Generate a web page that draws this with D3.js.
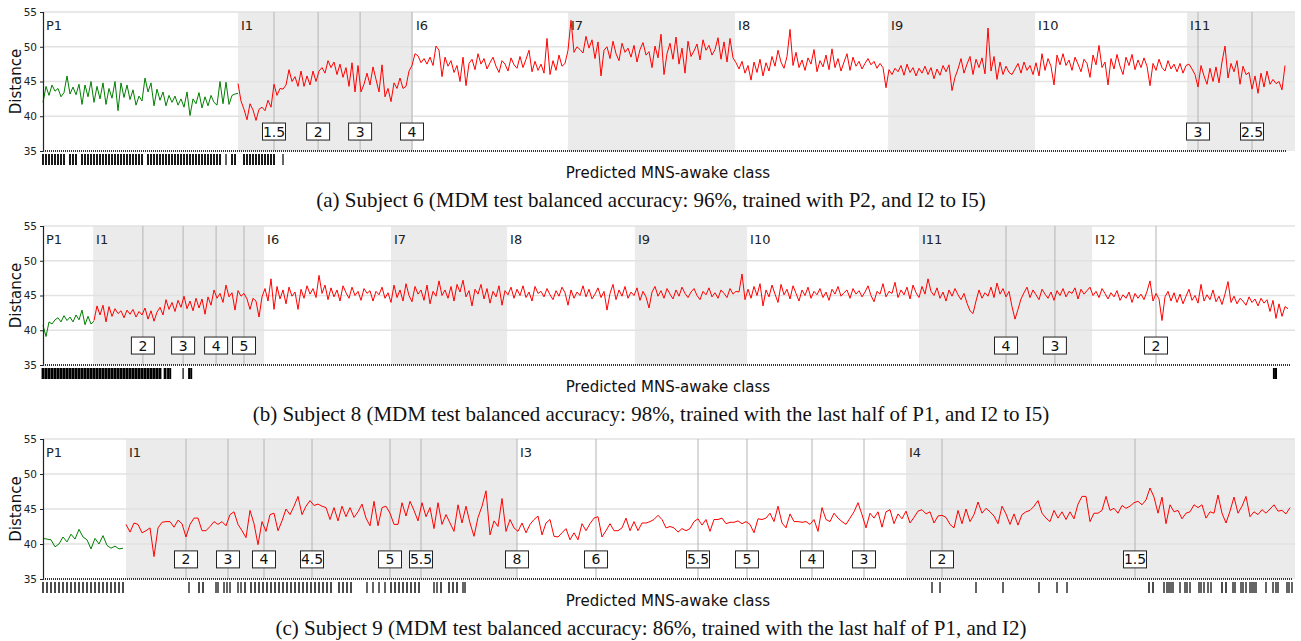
<!DOCTYPE html>
<html>
<head>
<meta charset="utf-8">
<script src="https://cdn.jsdelivr.net/npm/d3@7"></script>
<style>
  body { margin: 0; background: #fff; }
  svg { display: block; }
</style>
</head>
<body>
<div id="chart"></div>
<script>
// ---------------- Subject 6 (panel a) ----------------
// x unit = epoch index
const regionsA = ["P1", "I1", "I6", "I7", "I8", "I9", "I10", "I11"];
const regionStartsA = [0, 65, 123.3, 175, 230.7, 281.7, 330.7, 381.3];
const markerPosA = [77, 91.7, 105.7, 123, 385, 403];
const markerLabelsA = ["1.5", "2", "3", "4", "3", "2.5"];
const greenA = [42.0, 44.3, 43.0, 44.5, 43.6, 44.0, 42.8, 43.4, 45.8, 43.2,
  44.2, 43.1, 44.6, 41.7, 44.5, 42.8, 45.0, 42.0, 44.3, 42.5,
  44.8, 41.7, 44.0, 42.6, 45.0, 40.8, 44.8, 42.7, 44.5, 42.4,
  43.8, 41.6, 42.9, 42.2, 45.5, 43.5, 44.8, 41.5, 43.9, 42.3,
  43.5, 41.5, 43.0, 42.0, 42.9, 41.6, 42.5, 41.3, 43.5, 40.1,
  42.5, 41.8, 43.4, 41.2, 42.8, 41.5, 43.0, 42.0, 41.6, 45.0,
  41.8, 44.9, 41.7, 43.0, 43.2, 43.3];
const redA = [44.7, 42.2, 41.0, 39.5, 41.8, 40.9, 39.4, 41.0, 41.3, 40.8,
  42.3, 41.3, 44.6, 43.0, 44.0, 43.9, 44.5, 46.7, 45.0, 45.7,
  44.3, 46.5, 44.3, 45.8, 44.5, 46.5, 45.0, 46.5, 47.0, 46.2,
  48.0, 47.0, 47.8, 46.0, 47.5, 45.6, 47.0, 44.3, 47.7, 43.5,
  47.3, 43.5, 44.6, 46.2, 44.5, 47.1, 45.3, 43.5, 47.4, 42.8,
  44.0, 42.1, 44.8, 44.0, 45.5, 44.0, 44.3, 46.5, 47.3, 49.0,
  48.7, 47.7, 48.3, 47.5, 48.5, 47.3, 50.1, 49.5, 45.7, 48.5,
  47.2, 48.0, 46.3, 47.3, 45.0, 48.5, 44.4, 47.6, 48.2, 46.7,
  49.0, 47.5, 48.3, 46.8, 47.7, 48.5, 47.2, 46.3, 48.0, 47.5,
  46.5, 48.4, 47.4, 46.9, 48.6, 47.0, 48.2, 49.5, 46.4, 47.9,
  46.6, 47.5, 46.2, 51.2, 46.0, 48.0, 46.6, 48.8, 47.2, 47.6,
  49.5, 53.8, 49.2, 50.0, 49.6, 49.1, 51.5, 49.8, 51.0, 48.3,
  50.7, 45.8, 49.5, 50.0, 48.3, 50.8, 49.0, 48.0, 50.5, 49.2,
  49.8, 48.5, 50.2, 47.8, 49.6, 50.6, 48.8, 49.3, 47.0, 50.1,
  48.4, 51.8, 46.0, 49.0, 50.5, 48.2, 51.4, 47.5, 49.8, 46.2,
  50.8, 48.6, 49.4, 50.4, 48.1, 51.0, 49.5, 50.2, 48.8, 49.6,
  51.3, 48.2, 50.7, 47.8, 51.2, 48.4, 47.7, 46.8, 47.9, 46.2,
  47.3, 45.2, 47.8, 46.3, 48.2, 45.8, 47.7, 46.5, 48.6, 47.2,
  49.5, 47.8, 46.9, 48.6, 52.5, 47.3, 49.2, 47.0, 48.1, 46.6,
  48.4, 47.5, 49.6, 46.4, 48.0, 47.1, 48.8, 46.7, 49.7, 47.0,
  48.3, 46.5, 47.8, 49.0, 46.6, 48.5, 47.2, 47.9, 46.8, 47.6,
  48.3, 47.4, 47.9, 46.9, 47.6, 47.0, 44.1, 46.7, 46.0, 46.9,
  46.4, 47.3, 45.9, 47.5, 46.3, 47.0, 45.8, 46.9, 46.2, 47.2,
  46.0, 47.0, 45.4, 46.8, 45.9, 47.3, 46.4, 47.4, 43.7, 45.6,
  46.8, 48.3, 46.2, 47.5, 48.6, 46.0, 48.2, 47.0, 48.4, 46.1,
  52.7, 46.5, 48.6, 45.3, 47.8, 46.0, 47.2, 46.3, 46.0, 46.8,
  47.6, 46.2, 47.8, 46.6, 47.3, 46.0, 47.7, 45.8, 49.0, 46.6,
  48.3, 47.2, 44.5, 48.8, 47.4, 49.0, 47.3, 48.1, 46.6, 48.5,
  47.5, 46.4, 48.2, 47.6, 45.6, 48.8, 47.4, 50.2, 47.0, 47.8,
  44.5, 48.3, 46.8, 48.9, 47.2, 46.0, 48.5, 47.3, 48.9, 46.7,
  48.1, 47.0, 48.4, 47.2, 44.4, 47.6, 46.6, 48.2, 47.0, 46.5,
  48.0, 46.8, 47.5, 46.4, 47.6, 46.2, 47.3, 47.5, 46.8, 46.0,
  44.2, 47.3, 45.8, 44.6, 46.9, 45.0, 47.1, 44.8, 47.8, 50.1,
  45.5, 47.6, 46.4, 48.0, 44.6, 47.2, 46.0, 46.3, 43.9, 45.8,
  43.3, 46.2, 44.2, 46.5, 44.6, 45.3, 44.7, 45.0, 43.8, 47.3];
const ticksA = [0, 1, 2, 3, 4, 5, 6, 7, 9, 10, 11, 13, 14, 15, 16, 17, 18, 19, 20,
  21, 22, 23, 24, 25, 26, 27, 28, 29, 30, 31, 32, 33, 35, 36, 37, 38, 39, 40,
  41, 42, 43, 44, 45, 46, 47, 48, 49, 50, 51, 52, 53, 54, 55, 56, 57, 58, 59,
  61, 63, 64, 67, 68, 69, 70, 71, 72, 73, 74, 75, 76, 77, 80];

// ---------------- Subject 8 (panel b) ----------------
const regionsB = ["P1", "I1", "I6", "I7", "I8", "I9", "I10", "I11", "I12"];
const regionStartsB = [0, 16.7, 73.7, 116, 154.7, 197.3, 234.7, 292, 349.7];
const markerPosB = [33.3, 46.7, 57.7, 67, 321, 337.3, 371];
const markerLabelsB = ["2", "3", "4", "5", "4", "3", "2"];
const greenB = [40.7, 39.1, 41.2, 40.9, 41.5, 41.8, 41.2, 42.1, 41.4, 41.9,
  41.2, 42.2, 41.5, 42.9, 40.8, 42.0, 40.9, 41.3];
const redB = [41.4, 43.5, 42.2, 43.6, 41.2, 43.4, 42.0, 43.1, 42.4, 42.8,
  41.8, 42.9, 42.3, 43.0, 41.9, 42.7, 42.2, 43.2, 41.6, 42.8,
  41.3, 42.6, 43.3, 42.2, 44.4, 43.0, 44.0, 42.7, 44.3, 43.3,
  44.9, 43.1, 44.2, 42.8, 44.6, 43.2, 44.5, 42.3, 44.8, 43.6,
  45.8, 44.6, 45.3, 44.0, 46.5, 44.8, 45.4, 42.9, 45.7, 44.9,
  45.3, 44.5, 43.0, 44.6, 44.2, 41.9, 44.8, 46.0, 44.2, 47.4,
  43.0, 46.3, 44.5, 45.8, 43.8, 46.2, 44.9, 45.5, 43.0, 45.9,
  44.6, 46.4, 45.2, 46.0, 44.7, 47.9, 45.3, 46.5, 44.4, 46.1,
  44.8, 45.8, 44.2, 46.4, 45.4, 44.6, 46.2, 45.0, 45.6, 44.3,
  46.0, 45.3, 45.7, 44.2, 45.6, 45.1, 46.2, 44.6, 45.4, 44.0,
  46.5, 44.7, 45.8, 44.2, 46.7, 45.0, 44.1, 46.3, 45.2, 45.8,
  44.3, 46.5, 43.8, 45.6, 44.9, 47.1, 45.0, 45.8, 44.6, 46.3,
  44.2, 46.6, 45.5, 47.2, 44.8, 45.7, 43.5, 45.9, 45.2, 46.6,
  44.5, 46.0, 43.9, 45.6, 44.8, 46.4, 43.6, 45.7, 45.1, 46.2,
  44.6, 45.9, 45.0, 46.4, 44.7, 45.5, 44.2, 46.3, 45.3, 45.6,
  44.8, 46.0, 45.1, 44.4, 45.7, 44.9, 46.2, 45.4, 43.6, 45.8,
  44.6, 45.5, 45.0, 46.4, 44.8, 45.9, 44.5, 45.2, 46.1, 44.7,
  45.6, 42.9, 45.3, 46.6, 44.4, 45.8, 44.9, 46.3, 44.6, 45.5,
  45.0, 46.1, 44.3, 45.6, 44.8, 43.2, 45.5, 46.3, 44.9, 45.7,
  44.6, 46.0, 45.2, 44.5, 45.8, 44.9, 46.2, 45.3, 44.7, 45.5,
  46.0, 45.0, 44.4, 45.6, 45.1, 46.1, 44.8, 45.4, 44.6, 45.8,
  45.3, 44.7, 46.0, 45.2, 45.6, 45.5, 48.1, 44.4, 45.9, 44.6,
  46.3, 45.0, 46.7, 43.5, 45.8, 44.8, 46.5, 45.2, 44.0, 46.6,
  45.1, 45.9, 44.5, 46.4, 45.3, 44.2, 45.8, 45.0, 46.2, 44.6,
  45.6, 45.1, 46.0, 44.7, 45.5, 44.3, 45.9, 45.2, 46.3, 44.9,
  45.4, 45.8, 44.6, 46.0, 45.2, 45.7, 44.8, 45.5, 46.4, 45.0,
  44.1, 45.6, 45.2, 46.7, 44.8, 45.6, 45.3, 46.9, 44.7, 45.8,
  45.1, 46.2, 44.5, 46.5, 45.4, 44.7, 46.3, 45.2, 47.4, 45.6,
  45.0, 46.1, 44.6, 45.5, 44.2, 45.8, 44.9, 46.0, 45.1, 44.4,
  45.3, 43.9, 42.8, 42.4, 44.2, 45.8, 44.6, 45.4, 44.9, 46.2,
  44.7, 46.8, 45.2, 46.0, 44.8, 45.6, 43.4, 41.6, 43.0, 44.5,
  45.4, 46.2, 44.7, 45.8, 45.1, 44.4, 45.9, 45.2, 44.6, 45.5,
  44.3, 45.7, 45.0, 46.0, 44.8, 45.6, 45.3, 46.1, 44.5, 45.9,
  45.2, 45.7, 46.2, 45.0, 45.6, 44.7, 46.0, 45.3, 44.5, 45.4,
  44.8, 45.7, 44.3, 45.1, 44.6, 45.5, 44.0, 45.3, 44.6, 45.2,
  44.4, 45.6, 47.1, 44.2, 45.3, 44.5, 41.4, 44.8, 45.6, 44.2,
  45.4, 44.0, 45.2, 43.8, 44.9, 45.9, 44.3, 45.0, 43.9, 46.6,
  44.2, 45.1, 44.4, 45.8, 44.1, 44.9, 43.7, 45.2, 47.0, 44.0,
  44.9, 43.8, 44.6, 44.2, 43.6, 44.8, 44.0, 44.5, 43.5, 44.6,
  43.9, 44.4, 42.7, 44.3, 41.7, 43.8, 42.0, 43.4, 43.1];
const ticksB = [0, 1, 2, 3, 4, 5, 6, 7, 8, 9, 10, 11, 12, 13, 14, 15, 16, 17, 18,
  19, 20, 21, 22, 23, 24, 25, 26, 27, 28, 29, 30, 31, 32, 33, 34, 35, 36, 37,
  38, 39, 40.7, 41.7, 42.4, 46.7, 48.7, 49.4, 410.3, 411];

// ---------------- Subject 9 (panel c) ----------------
const regionsC = ["P1", "I1", "I3", "I4"];
const regionStartsC = [0, 20.75, 118.5, 215.75];
const markerPosC = [35.75, 46.25, 55.25, 67.25, 86.75, 94.5, 118.5, 138.25,
  163.75, 176, 192.25, 205.25, 224.75, 273];
const markerLabelsC = ["2", "3", "4", "4.5", "5", "5.5", "8", "6", "5.5", "5",
  "4", "3", "2", "1.5"];
const greenC = [40.8, 40.7, 40.6, 39.6, 40.0, 41.0, 40.3, 41.4, 40.7, 42.1,
  41.0, 40.6, 39.3, 40.8, 40.0, 41.2, 39.8, 39.4, 39.7, 39.3, 39.4];
const redC = [42.8, 41.7, 43.0, 42.8, 41.6, 41.9, 42.3, 38.2, 42.3, 43.1,
  43.2, 43.2, 42.4, 43.4, 42.9, 41.0, 42.8, 43.7, 43.7, 41.9,
  41.9, 42.5, 43.2, 42.8, 43.2, 42.6, 44.2, 44.6, 42.8, 41.9,
  40.9, 44.8, 42.9, 39.9, 43.2, 41.8, 44.2, 44.4, 41.9, 43.3,
  45.0, 44.2, 45.4, 46.8, 44.2, 45.4, 46.2, 45.5, 45.7, 45.4,
  45.2, 43.5, 45.2, 43.3, 45.4, 43.9, 45.2, 43.8, 44.6, 45.7,
  43.7, 42.6, 46.1, 42.6, 45.2, 45.4, 44.4, 42.8, 42.8, 45.9,
  44.0, 46.1, 44.8, 43.3, 45.9, 43.9, 45.2, 42.2, 45.9, 42.8,
  44.2, 43.0, 41.8, 45.6, 43.0, 45.4, 43.0, 41.1, 43.8, 45.4,
  47.6, 41.3, 43.3, 42.5, 46.5, 41.8, 43.5, 42.3, 41.8, 43.0,
  41.6, 42.8, 43.5, 44.0, 41.3, 43.0, 43.5, 41.1, 41.0, 41.6,
  42.2, 40.6, 41.6, 40.6, 42.9, 41.9, 42.9, 43.7, 43.9, 41.0,
  41.9, 42.9, 41.9, 41.9, 42.3, 43.7, 41.9, 43.2, 41.9, 43.0,
  43.0, 43.2, 43.5, 44.1, 43.5, 42.3, 42.5, 42.3, 41.7, 42.2,
  41.9, 42.2, 43.2, 43.6, 42.7, 43.5, 41.8, 43.5, 43.5, 43.7,
  42.9, 43.1, 43.1, 43.3, 42.9, 43.2, 42.8, 41.6, 43.6, 43.5,
  43.7, 44.4, 43.2, 45.4, 43.0, 42.3, 44.3, 43.2, 43.2, 43.1,
  43.2, 42.8, 43.5, 41.8, 45.2, 43.5, 43.2, 44.4, 43.7, 43.2,
  42.8, 43.7, 44.6, 45.9, 44.2, 42.3, 44.4, 43.7, 44.6, 42.4,
  44.6, 44.9, 42.9, 44.3, 43.6, 44.7, 43.0, 43.8, 44.7, 44.9,
  44.3, 44.6, 43.0, 44.0, 44.1, 43.8, 42.8, 42.3, 44.8, 42.9,
  45.0, 43.2, 44.2, 46.0, 44.4, 45.1, 44.6, 44.0, 42.9, 45.4,
  44.3, 42.8, 44.3, 42.7, 44.2, 44.6, 44.8, 45.4, 46.2, 44.4,
  43.7, 43.2, 44.8, 43.7, 44.6, 43.5, 44.6, 43.6, 45.7, 46.8,
  46.8, 43.2, 44.4, 44.4, 44.8, 46.8, 44.8, 45.1, 44.4, 45.5,
  45.1, 45.4, 45.9, 46.1, 45.6, 46.3, 48.0, 46.7, 44.4, 46.7,
  42.9, 45.6, 44.6, 44.8, 43.6, 44.4, 44.6, 45.6, 45.2, 45.6,
  43.7, 44.6, 44.4, 47.0, 44.4, 43.0, 44.7, 46.7, 44.4, 45.4,
  46.8, 43.9, 44.6, 44.2, 44.9, 44.4, 45.0, 45.6, 44.7, 44.8,
  44.3, 45.2];
const ticksC = [0, 1, 2, 3, 4, 5, 6, 7, 8, 9, 10, 11, 12, 13, 14, 15, 16, 17, 18,
  19, 20, 36.5, 39, 40, 43.25, 43.75, 45.25, 46, 46.75, 48.75, 49.5, 50.5, 52,
  53, 54, 55, 56, 57, 58, 59, 60, 61, 62, 63, 64, 65, 66, 67, 68, 69, 70, 71, 72,
  74, 75, 76, 77, 81, 82.5, 84, 85.5, 87, 88, 89, 90, 91, 92, 93, 94, 97.75,
  98.5, 99.5, 101.5, 102.5, 103.5, 105, 105.5, 222.25, 224.25, 233.25, 240, 249,
  253.5, 256, 276.5, 277.5, 280.25, 281, 281.5, 282, 282.5, 284.25, 285.5, 286,
  286.75, 289, 289.5, 290.25, 291.25, 292, 294.75, 295.75, 297.5, 298, 299.5,
  300, 300.75, 301.75, 302.25, 302.75, 303.25, 305.75, 307.5, 308.25, 308.75,
  311, 311.5, 312.25];

const captions = [
  "(a) Subject 6 (MDM test balanced accuracy: 96%, trained with P2, and I2 to I5)",
  "(b) Subject 8 (MDM test balanced accuracy: 98%, trained with the last half of P1, and I2 to I5)",
  "(c) Subject 9 (MDM test balanced accuracy: 86%, trained with the last half of P1, and I2)"
];

var width = 1301, height = 641;
var left = 43, right = 1295;
var sans = "'DejaVu Sans', Verdana, sans-serif";

var svg = d3.select("#chart").append("svg")
    .attr("width", width)
    .attr("height", height)
    .style("background", "#fff");

var panels = [
  { top: 12, bottom: 151, end: 417.33, pxPer: 3, fill: 0.6,
    regions: regionsA, starts: regionStartsA, mPos: markerPosA, mLab: markerLabelsA,
    green: greenA, greenStart: 0, red: redA, redStart: 65, ticks: ticksA, caption: captions[0] },
  { top: 226, bottom: 365, end: 417.33, pxPer: 3, fill: 0.95,
    regions: regionsB, starts: regionStartsB, mPos: markerPosB, mLab: markerLabelsB,
    green: greenB, greenStart: 0, red: redB, redStart: 17, ticks: ticksB, caption: captions[1] },
  { top: 439, bottom: 579, end: 313, pxPer: 4, fill: 0.35,
    regions: regionsC, starts: regionStartsC, mPos: markerPosC, mLab: markerLabelsC,
    green: greenC, greenStart: 0, red: redC, redStart: 20.75, ticks: ticksC, caption: captions[2] }
];

panels.forEach(drawPanel);

function drawPanel(p) {
  var g = svg.append("g");

  var x = d3.scaleLinear().domain([0, p.end]).range([left, right]);
  var y = d3.scaleLinear().domain([35, 55]).range([p.bottom, p.top]);

  // shaded intervals (every second one is gray)
  p.regions.forEach(function(name, i) {
    var x0 = x(p.starts[i]);
    var x1 = x(i + 1 < p.starts.length ? p.starts[i + 1] : p.end);
    if (i % 2 === 1) {
      g.append("rect")
        .attr("x", x0).attr("y", y(55))
        .attr("width", x1 - x0).attr("height", y(35) - y(55))
        .attr("fill", "#ebebeb");
    }
  });

  // horizontal grid
  g.selectAll("line.grid")
    .data([40, 45, 50, 55])
    .enter().append("line")
      .attr("class", "grid")
      .attr("x1", left).attr("x2", right)
      .attr("y1", function(d) { return y(d); })
      .attr("y2", function(d) { return y(d); })
      .attr("stroke", "#e2e2e2")
      .attr("stroke-width", 1.5);

  // vertical marker lines
  g.selectAll("line.marker")
    .data(p.mPos)
    .enter().append("line")
      .attr("class", "marker")
      .attr("x1", function(d) { return x(d); })
      .attr("x2", function(d) { return x(d); })
      .attr("y1", y(55)).attr("y2", y(35))
      .attr("stroke", "#b4b4b4")
      .attr("stroke-width", 1);

  // interval names
  g.selectAll("text.region")
    .data(p.regions)
    .enter().append("text")
      .attr("class", "region")
      .attr("x", function(d, i) { return x(p.starts[i]) + 3; })
      .attr("y", y(55) + 18)
      .attr("font-family", sans)
      .attr("font-size", 13)
      .attr("fill", "#222")
      .text(function(d) { return d; });

  // distance lines
  var line = d3.line()
      .x(function(d) { return x(d.t); })
      .y(function(d) { return y(d.v); });

  var greenPts = p.green.map(function(v, i) { return { t: p.greenStart + i, v: v }; });
  var redPts = p.red.map(function(v, i) { return { t: p.redStart + i, v: v }; });

  g.append("path")
    .datum(greenPts)
    .attr("d", line)
    .attr("fill", "none")
    .attr("stroke", "#008000")
    .attr("stroke-width", 1);

  g.append("path")
    .datum(redPts)
    .attr("d", line)
    .attr("fill", "none")
    .attr("stroke", "#ff0000")
    .attr("stroke-width", 1);

  // marker boxes
  var box = g.selectAll("g.mbox")
    .data(p.mPos)
    .enter().append("g")
      .attr("class", "mbox")
      .attr("transform", function(d) {
        return "translate(" + x(d) + "," + y(37.8) + ")";
      });

  box.append("rect")
    .attr("x", -11.5).attr("y", -8.5)
    .attr("width", 23).attr("height", 17)
    .attr("fill", "#fff")
    .attr("stroke", "#222")
    .attr("stroke-width", 1);

  box.append("text")
    .attr("text-anchor", "middle")
    .attr("y", 5)
    .attr("font-family", sans)
    .attr("font-size", 14)
    .attr("fill", "#111")
    .text(function(d, i) { return p.mLab[i]; });

  // y axis
  var yAxis = g.append("g")
    .attr("transform", "translate(" + left + ",0)")
    .call(d3.axisLeft(y).tickValues([35, 40, 45, 50, 55]).tickSize(3).tickPadding(3));
  yAxis.selectAll("text")
    .attr("font-family", sans)
    .attr("font-size", 10.5)
    .attr("fill", "#222");
  yAxis.select(".domain").attr("stroke", "#222").attr("stroke-width", 1.2);
  yAxis.selectAll(".tick line").attr("stroke", "#222");

  // dotted baseline
  var lastT = p.redStart + p.red.length - 1;
  g.append("line")
    .attr("x1", left).attr("x2", x(lastT) + 2)
    .attr("y1", y(35)).attr("y2", y(35))
    .attr("stroke", "#333")
    .attr("stroke-width", 2.2)
    .attr("stroke-dasharray", "1,1");

  // predicted MNS-awake class ticks
  var sorted = p.ticks.slice().sort(function(a, b) { return a - b; });
  g.selectAll("rect.pred")
    .data(sorted)
    .enter().append("rect")
      .attr("class", "pred")
      .attr("x", function(d) { return x(d) - tickW(d, sorted, p) / 2; })
      .attr("y", y(35) + 3)
      .attr("width", function(d) { return tickW(d, sorted, p); })
      .attr("height", 11)
      .attr("fill", "#000");

  g.append("text")
    .attr("x", 668)
    .attr("y", y(35) + 27)
    .attr("text-anchor", "middle")
    .attr("font-family", sans)
    .attr("font-size", 15)
    .attr("fill", "#111")
    .text("Predicted MNS-awake class");

  // y label
  g.append("text")
    .attr("transform", "translate(21," + (y(45)) + ") rotate(-90)")
    .attr("text-anchor", "middle")
    .attr("font-family", sans)
    .attr("font-size", 15)
    .attr("fill", "#111")
    .text("Distance");

  // caption
  g.append("text")
    .attr("x", 651)
    .attr("y", y(35) + 56)
    .attr("text-anchor", "middle")
    .attr("font-family", "'Liberation Serif', 'Times New Roman', serif")
    .attr("font-size", 21)
    .attr("fill", "#111")
    .text(p.caption);
}

// dense ticks get wider, isolated ones stay thin
function tickW(d, arr, p) {
  var i = arr.indexOf(d);
  var gap = Infinity;
  if (i > 0) gap = Math.min(gap, d - arr[i - 1]);
  if (i < arr.length - 1) gap = Math.min(gap, arr[i + 1] - d);
  if (gap <= 1.001) return Math.max(1.2, gap * p.pxPer * p.fill);
  return 1.2;
}
</script>
</body>
</html>
